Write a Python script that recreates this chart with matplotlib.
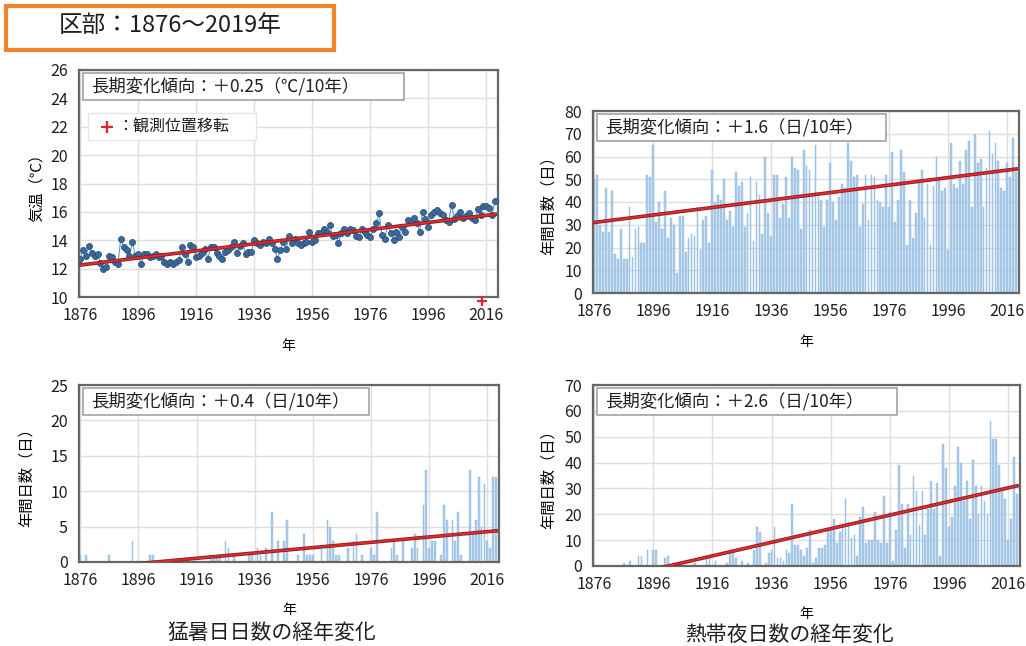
import numpy as np
import matplotlib
matplotlib.use("Agg")
import matplotlib.pyplot as plt
from matplotlib.patches import Rectangle

plt.rcParams['font.family'] = ['Noto Sans CJK JP', 'DejaVu Sans']

years = np.arange(1876, 2020)

# annual mean temperature (deg C), 1876-2019
temp = [12.7, 13.3, 12.9, 13.6, 13.1, 12.9, 13.0, 12.4, 12.0, 12.1,
        12.9, 12.8, 12.5, 12.3, 14.1, 13.5, 13.3, 12.9, 13.9, 12.9,
        13.0, 12.3, 13.0, 13.0, 12.8, 12.9, 13.0, 12.8, 12.9, 12.5,
        12.3, 12.5, 12.3, 12.5, 12.6, 13.5, 13.0, 12.5, 13.7, 13.5,
        12.8, 12.9, 13.1, 13.4, 12.7, 13.5, 13.5, 13.1, 12.9, 12.7,
        13.2, 13.3, 13.5, 13.9, 13.1, 13.6, 13.8, 13.0, 13.2, 13.2,
        14.0, 13.8, 13.7, 13.9, 13.8, 14.1, 13.8, 13.4, 12.7, 13.3,
        13.9, 13.4, 14.3, 13.8, 14.1, 13.8, 13.7, 13.8, 13.9, 14.6,
        13.9, 14.0, 14.5, 14.5, 14.8, 14.6, 15.1, 14.3, 14.4, 13.8,
        14.5, 14.8, 14.5, 14.8, 14.7, 14.3, 14.2, 14.8, 14.6, 14.4,
        14.2, 14.8, 15.2, 15.9, 14.4, 14.1, 15.1, 14.5, 14.0, 14.6,
        14.2, 14.9, 14.6, 15.4, 15.3, 15.6, 15.2, 14.6, 16.0, 15.5,
        14.9, 15.8, 16.0, 16.1, 15.9, 15.8, 15.4, 15.3, 16.5, 15.5,
        15.7, 16.0, 15.6, 15.7, 15.9, 15.6, 15.4, 16.2, 15.8, 16.4,
        16.4, 16.3, 15.8, 16.8]

# days >= 30 deg C
hot_days = [50, 52, 30, 27, 46, 27, 45, 17, 15, 28,
            15, 15, 38, 16, 28, 29, 22, 22, 52, 51,
            65, 31, 40, 28, 45, 24, 33, 30, 9, 34,
            34, 18, 24, 26, 25, 38, 19, 32, 34, 22,
            54, 40, 43, 41, 50, 32, 36, 29, 53, 47,
            49, 29, 35, 51, 23, 49, 43, 26, 60, 35,
            25, 52, 52, 33, 39, 51, 33, 60, 55, 54,
            28, 63, 56, 54, 42, 65, 42, 41, 29, 41,
            57, 40, 32, 42, 48, 46, 66, 58, 51, 52,
            29, 39, 52, 32, 52, 51, 41, 40, 38, 52,
            38, 62, 31, 41, 63, 53, 21, 41, 24, 35,
            50, 54, 33, 48, 21, 47, 60, 50, 45, 46,
            19, 66, 48, 46, 58, 48, 63, 67, 38, 70,
            57, 59, 38, 55, 71, 61, 66, 58, 46, 45,
            57, 51, 68, 53]

# days >= 35 deg C
extreme_days = [1, 0, 1, 0, 0, 0, 0, 0, 0, 0,
                1, 0, 0, 0, 0, 0, 0, 0, 3, 0,
                0, 0, 0, 0, 1, 1, 0, 0, 0, 0,
                0, 0, 0, 0, 0, 0, 0, 0, 0, 0,
                0, 0, 0, 0, 0, 1, 1, 1, 1, 0,
                3, 2, 0, 1, 0, 0, 0, 0, 1, 1,
                0, 2, 1, 0, 2, 0, 7, 0, 3, 0,
                3, 6, 0, 0, 0, 1, 0, 4, 1, 1,
                1, 0, 0, 2, 0, 6, 5, 3, 1, 1,
                0, 0, 2, 0, 3, 4, 0, 1, 0, 0,
                2, 1, 7, 0, 0, 0, 0, 2, 3, 1,
                0, 3, 0, 0, 2, 4, 2, 0, 8, 13,
                2, 3, 3, 0, 1, 8, 6, 0, 6, 3,
                7, 1, 0, 0, 13, 4, 6, 12, 5, 11,
                3, 2, 12, 12]

# tropical nights
trop_nights = [0, 0, 0, 0, 0, 0, 0, 0, 0, 0,
               1, 0, 2, 0, 0, 4, 4, 0, 6, 0,
               6, 6, 0, 0, 3, 4, 0, 1, 0, 0,
               0, 0, 0, 0, 1, 0, 0, 0, 4, 3,
               0, 2, 0, 0, 0, 1, 6, 6, 3, 0,
               2, 0, 1, 0, 6, 15, 13, 0, 1, 5,
               6, 15, 3, 3, 2, 6, 5, 24, 8, 8,
               6, 4, 7, 14, 1, 3, 7, 7, 8, 14,
               15, 18, 9, 13, 16, 26, 17, 11, 12, 4,
               19, 23, 9, 10, 10, 21, 10, 9, 27, 9,
               21, 2, 14, 39, 24, 7, 24, 12, 35, 29,
               16, 29, 12, 22, 33, 22, 32, 4, 47, 38,
               15, 19, 31, 46, 40, 25, 33, 18, 41, 31,
               20, 31, 25, 20, 56, 49, 49, 39, 29, 26,
               10, 18, 42, 28]

# linear trend end values (1876, 2019) as drawn
trend_temp = [12.25, 15.83]
trend_hot = [31.0, 54.5]
trend_ext = [-0.98, 4.4]
trend_trop = [-6.6, 31.0]

xticks = [1876, 1896, 1916, 1936, 1956, 1976, 1996, 2016]

bar_col = '#aacbea'
trend_col = '#e02a2e'
frame_col = '#666666'
grid_col = '#dedede'
txt_col = '#1e1e1e'

fig = plt.figure(figsize=(10.26, 6.46), dpi=100)
W, H = 1026, 646


def add_ax(l, t, r, b):
    return fig.add_axes([l / W, 1 - b / H, (r - l) / W, (b - t) / H])


def style(ax, ylim, ystep):
    ax.set_xlim(1875.6, 2020)
    ax.set_ylim(*ylim)
    ax.set_xticks(xticks)
    ax.set_yticks(np.arange(ylim[0], ylim[1] + 0.1, ystep))
    ax.grid(True, color=grid_col, linewidth=1.0)
    ax.set_axisbelow(True)
    ax.tick_params(axis='x', length=0, labelsize=11.5, pad=7, colors=txt_col)
    ax.tick_params(axis='y', length=0, labelsize=11.5, pad=8, colors=txt_col)
    for s in ax.spines.values():
        s.set_color(frame_col)
        s.set_linewidth(1.6)


def trend(ax, vals):
    ax.plot([1876, 2019], vals, color='#8a1c1c', linewidth=2.6, zorder=5)
    ax.plot([1876, 2019], vals, color=trend_col, linewidth=1.4, zorder=6)


def box_text(ax, txt, w_px):
    # box frame in pixel-ish axes coords, text inside
    bb = ax.get_position()
    aw, ah = bb.width * W, bb.height * H
    ax.add_patch(Rectangle((4 / aw, 1 - 30 / ah), w_px / aw, 27 / ah,
                           transform=ax.transAxes, facecolor='white',
                           edgecolor='#9a9a9a', linewidth=1.1, zorder=7))
    ax.text(12 / aw, 1 - 16.5 / ah, txt, transform=ax.transAxes,
            ha='left', va='center', fontsize=12.5, color=txt_col, zorder=8)


# panel 1 : temperature
ax1 = add_ax(79, 70, 498, 297)
style(ax1, (10, 26), 2)
ax1.plot(years, temp, color='#5b9bd5', linewidth=0.8, zorder=3)
ax1.plot(years, temp, 'o', markersize=4.3, markerfacecolor='#3a6a9c',
         markeredgecolor='#2b4f77', markeredgewidth=0.6, zorder=4)
trend(ax1, trend_temp)
ax1.plot([2014.5], [9.7], marker='+', color='#e8202a', markersize=7,
         markeredgewidth=1.6, clip_on=False, zorder=6)
box_text(ax1, '長期変化傾向：＋0.25（℃/10年）', 321)
# marker legend box
ax1.add_patch(Rectangle((9 / 419, 1 - 70 / 227), 168 / 419, 27 / 227,
                        transform=ax1.transAxes, facecolor='white',
                        edgecolor='#e4e4e4', linewidth=0.9, zorder=7))
ax1.plot([28 / 419], [1 - 57 / 227], marker='+', color='#e8202a',
         markersize=8, markeredgewidth=1.6, transform=ax1.transAxes, zorder=8)
ax1.text(38 / 419, 1 - 57 / 227, '：観測位置移転', transform=ax1.transAxes,
         ha='left', va='center', fontsize=11.5, color=txt_col, zorder=8)
ax1.set_ylabel('気温（℃）', fontsize=11, labelpad=4)
ax1.set_xlabel('年', fontsize=10, labelpad=11)

# panel 2 : days >= 30
ax2 = add_ax(593, 111, 1019, 293)
style(ax2, (0, 80), 10)
ax2.bar(years, hot_days, width=0.6, color=bar_col, edgecolor='#8fb6dd',
        linewidth=0.3, zorder=2)
trend(ax2, trend_hot)
box_text(ax2, '長期変化傾向：＋1.6（日/10年）', 289)
ax2.set_ylabel('年間日数（日）', fontsize=11, labelpad=5)
ax2.set_xlabel('年', fontsize=10, labelpad=11)

# panel 3 : days >= 35
ax3 = add_ax(79, 385, 499, 562)
style(ax3, (0, 25), 5)
ax3.bar(years, extreme_days, width=0.6, color=bar_col, edgecolor='#8fb6dd',
        linewidth=0.3, zorder=2)
trend(ax3, trend_ext)
box_text(ax3, '長期変化傾向：＋0.4（日/10年）', 286)
ax3.set_ylabel('年間日数（日）', fontsize=11, labelpad=11)
ax3.set_xlabel('年', fontsize=10, labelpad=10)

# panel 4 : tropical nights
ax4 = add_ax(593, 385, 1020, 566)
style(ax4, (0, 70), 10)
ax4.bar(years, trop_nights, width=0.6, color=bar_col, edgecolor='#8fb6dd',
        linewidth=0.3, zorder=2)
trend(ax4, trend_trop)
box_text(ax4, '長期変化傾向：＋2.6（日/10年）', 300)
ax4.set_ylabel('年間日数（日）', fontsize=11, labelpad=5)
ax4.set_xlabel('年', fontsize=10, labelpad=10)

# captions
fig.text(272 / W, 1 - 633 / H, '猛暑日日数の経年変化', ha='center', va='center',
         fontsize=15, color=txt_col)
fig.text(790 / W, 1 - 635 / H, '熱帯夜日数の経年変化', ha='center', va='center',
         fontsize=15, color=txt_col)

# header box
fig.patches.append(Rectangle((6 / W, 1 - 50 / H), 328 / W, 44 / H,
                             transform=fig.transFigure, facecolor='white',
                             edgecolor='#f0842a', linewidth=3))
fig.text(170 / W, 1 - 25 / H, '区部：1876～2019年', ha='center', va='center',
         fontsize=17, color=txt_col)

fig.savefig('out.png', dpi=100)
